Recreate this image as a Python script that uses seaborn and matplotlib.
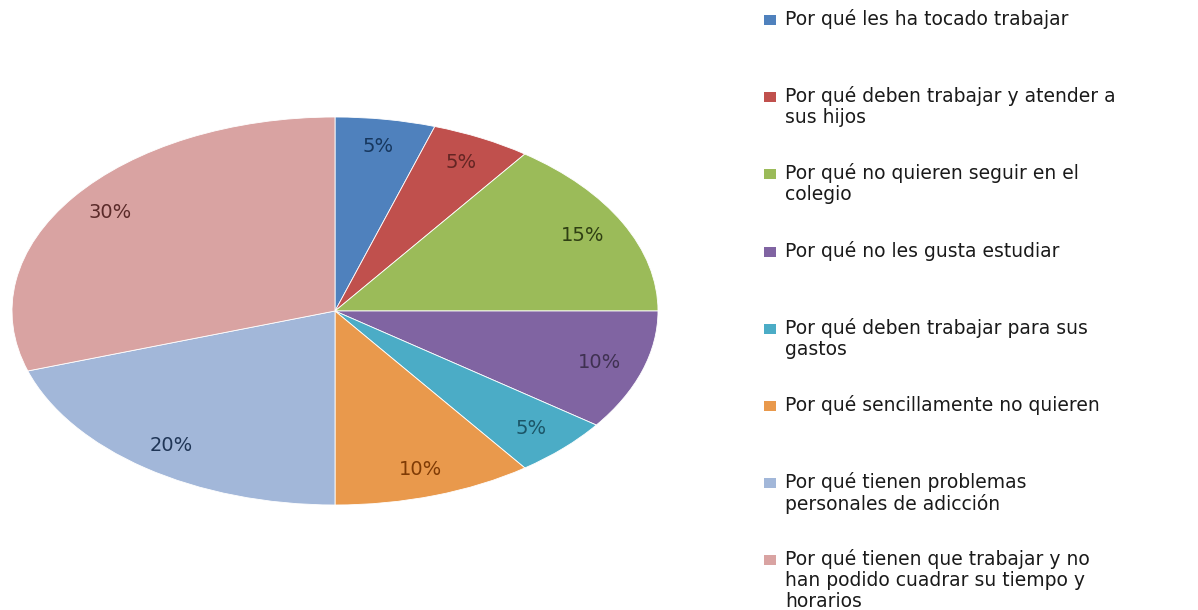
import matplotlib.pyplot as plt
import seaborn as sns
from matplotlib.patches import Rectangle

categories = [
    "Por qué les ha tocado trabajar",
    "Por qué deben trabajar y atender a\nsus hijos",
    "Por qué no quieren seguir en el\ncolegio",
    "Por qué no les gusta estudiar",
    "Por qué deben trabajar para sus\ngastos",
    "Por qué sencillamente no quieren",
    "Por qué tienen problemas\npersonales de adicción",
    "Por qué tienen que trabajar y no\nhan podido cuadrar su tiempo y\nhorarios",
]
shares = [5, 5, 15, 10, 5, 10, 20, 30]

slice_colors = sns.color_palette(["#4F81BD", "#C0504D", "#9BBB59", "#8064A2",
                                  "#4BACC6", "#E9994C", "#A2B7D9", "#D9A3A2"])
label_colors = ["#17375E", "#632523", "#2F3F13", "#3F3151",
                "#1B5567", "#7F3B05", "#1F3556", "#5A2A29"]

sns.set_theme(style="white")
plt.rcParams["font.family"] = ["DejaVu Sans"]

W, H = 1198, 610
fig = plt.figure(figsize=(W / 100, H / 100), dpi=100)
fig.patch.set_facecolor("white")

# pie is stretched horizontally in the original
ax = fig.add_axes([12 / W, 105 / H, 646 / W, 388 / H])
wedges, texts, autotexts = ax.pie(
    shares,
    colors=slice_colors,
    startangle=90,
    counterclock=False,
    autopct=lambda p: f"{p:.0f}%",
    pctdistance=0.86,
    wedgeprops=dict(edgecolor="white", linewidth=0.6),
    textprops=dict(fontsize=14, family="DejaVu Sans"),
)
for t, c in zip(autotexts, label_colors):
    t.set_color(c)
ax.set_aspect("auto")
ax.set_xlim(-1, 1)
ax.set_ylim(-1, 1)
ax.axis("off")

# legend drawn by hand: fixed pitch, marker aligned with first line
y0, step = 20, 77.2
for i, (lab, col) in enumerate(zip(categories, slice_colors)):
    yc = y0 + i * step
    fig.patches.append(Rectangle((764 / W, 1 - (yc + 5) / H), 12 / W, 10 / H,
                                 transform=fig.transFigure, facecolor=col,
                                 edgecolor="none"))
    fig.text(785 / W, 1 - (yc - 11) / H, lab, fontsize=13.5, color="#1a1a1a",
             family="DejaVu Sans", va="top", ha="left", linespacing=1.12)

fig.savefig("out.png", dpi=100, facecolor="white")
